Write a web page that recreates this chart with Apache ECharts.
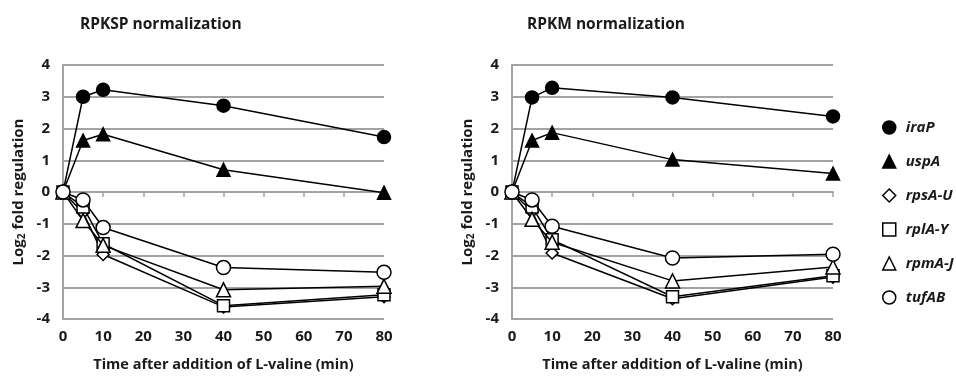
<!DOCTYPE html>
<html>
<head>
<meta charset="utf-8">
<script src="https://cdn.jsdelivr.net/npm/echarts@6/dist/echarts.min.js"></script>
<style>
html,body{margin:0;padding:0;background:#fff;}
#c{width:956px;height:377px;}
</style>
</head>
<body>
<div id="c"></div>
<script>
// ---- data ----
var times = [0, 5, 10, 40, 80];
var genes = ['iraP', 'uspA', 'rpsA-U', 'rplA-Y', 'rpmA-J', 'tufAB'];
var titles = ['RPKSP normalization', 'RPKM normalization'];
var xTicks = [0, 10, 20, 30, 40, 50, 60, 70, 80];
var yTicks = [-4, -3, -2, -1, 0, 1, 2, 3, 4];

// RPKSP normalization
var rpksp_iraP  = [0, 3.00, 3.22, 2.72, 1.73];
var rpksp_uspA  = [0, 1.62, 1.82, 0.70, -0.02];
var rpksp_rpsAU = [0, -0.65, -1.97, -3.62, -3.30];
var rpksp_rplAY = [0, -0.47, -1.63, -3.58, -3.24];
var rpksp_rpmAJ = [0, -0.90, -1.68, -3.08, -2.97];
var rpksp_tufAB = [0, -0.25, -1.12, -2.38, -2.53];

// RPKM normalization
var rpkm_iraP  = [0, 2.98, 3.28, 2.98, 2.38];
var rpkm_uspA  = [0, 1.62, 1.87, 1.02, 0.58];
var rpkm_rpsAU = [0, -0.62, -1.92, -3.36, -2.68];
var rpkm_rplAY = [0, -0.47, -1.50, -3.30, -2.64];
var rpkm_rpmAJ = [0, -0.86, -1.58, -2.80, -2.36];
var rpkm_tufAB = [0, -0.25, -1.08, -2.08, -1.96];

var panels = [
  [rpksp_iraP, rpksp_uspA, rpksp_rpsAU, rpksp_rplAY, rpksp_rpmAJ, rpksp_tufAB],
  [rpkm_iraP, rpkm_uspA, rpkm_rpsAU, rpkm_rplAY, rpkm_rpmAJ, rpkm_tufAB]
];

// ---- styles ----
var FONT = '"Open Sans"';
var TXT = '#1a1a1a';
var GRIDC = '#a3a3a3';
var markers = [
  {symbol: 'circle', size: 13, fill: '#000'},
  {symbol: 'triangle', size: 13, fill: '#000'},
  {symbol: 'diamond', size: 12, fill: '#fff'},
  {symbol: 'rect', size: 12, fill: '#fff'},
  {symbol: 'triangle', size: 14, fill: '#fff'},
  {symbol: 'circle', size: 14, fill: '#fff'}
];
var gridLefts = [63, 512];

function pairs(vals) {
  return times.map(function (t, i) { return [t, vals[i]]; });
}

var grids = [], xAxes = [], yAxes = [], series = [];
gridLefts.forEach(function (gl, p) {
  grids.push({left: gl, top: 65, width: 321, height: 256, containLabel: false});
  xAxes.push({
    type: 'value', gridIndex: p, min: 0, max: 80, interval: 10,
    name: 'Time after addition of L-valine (min)',
    nameLocation: 'middle', nameGap: 38,
    nameTextStyle: {fontFamily: FONT, fontWeight: 'bold', fontSize: 14.5, color: TXT},
    axisLine: {show: true, lineStyle: {color: GRIDC, width: 2}},
    axisTick: {show: true, inside: false, length: 5, lineStyle: {color: GRIDC, width: 1.5}},
    axisLabel: {fontFamily: FONT, fontWeight: 'bold', fontSize: 15, color: TXT, margin: 10,
      formatter: function (v) { return xTicks.indexOf(v) >= 0 ? String(v) : ''; }},
    splitLine: {show: false}
  });
  yAxes.push({
    type: 'value', gridIndex: p, min: -4, max: 4, interval: 1,
    name: 'Log{sub|2} fold regulation',
    nameLocation: 'middle', nameGap: 36, nameRotate: 90,
    nameTextStyle: {fontFamily: FONT, fontWeight: 'bold', fontSize: 15, color: TXT,
      rich: {sub: {fontFamily: FONT, fontWeight: 'bold', fontSize: 10, color: TXT, verticalAlign: 'bottom', padding: [6, 0, 0, 0]}}},
    axisLine: {show: true, lineStyle: {color: GRIDC, width: 2}},
    axisTick: {show: false},
    axisLabel: {fontFamily: FONT, fontWeight: 'bold', fontSize: 15, color: TXT, margin: 13,
      formatter: function (v) { return yTicks.indexOf(v) >= 0 ? String(v) : ''; }},
    splitLine: {show: true, lineStyle: {color: GRIDC, width: 2}}
  });
  genes.forEach(function (g, i) {
    var m = markers[i];
    series.push({
      type: 'line', name: g, xAxisIndex: p, yAxisIndex: p,
      data: pairs(panels[p][i]),
      symbol: m.symbol, symbolSize: m.size, showAllSymbol: true,
      lineStyle: {color: '#000', width: 1.5},
      itemStyle: {color: m.fill, borderColor: '#000', borderWidth: 1.5, opacity: 1},
      emphasis: {disabled: true},
      animation: false, z: 2 + i
    });
  });
});

var chart = echarts.init(document.getElementById('c'), null, {renderer: 'canvas'});
chart.setOption({
  backgroundColor: '#fff',
  animation: false,
  title: [
    {text: titles[0], left: 75, top: 12, textStyle: {fontFamily: FONT, fontWeight: 'bold', fontSize: 15.5, color: TXT}},
    {text: titles[1], left: 522, top: 12, textStyle: {fontFamily: FONT, fontWeight: 'bold', fontSize: 15.5, color: TXT}}
  ],
  grid: grids,
  xAxis: xAxes,
  yAxis: yAxes,
  legend: {
    orient: 'vertical', left: 877, top: 115,
    itemWidth: 13, itemHeight: 13, itemGap: 19,
    selectedMode: false,
    data: genes.map(function (g, i) { return {name: g, icon: markers[i].symbol}; }),
    itemStyle: {borderColor: '#000', borderWidth: 1.5},
    textStyle: {fontFamily: FONT, fontWeight: 'bold', fontStyle: 'italic', fontSize: 15, color: TXT, padding: [0, 0, 0, 5]}
  },
  series: series
});
</script>
</body>
</html>
